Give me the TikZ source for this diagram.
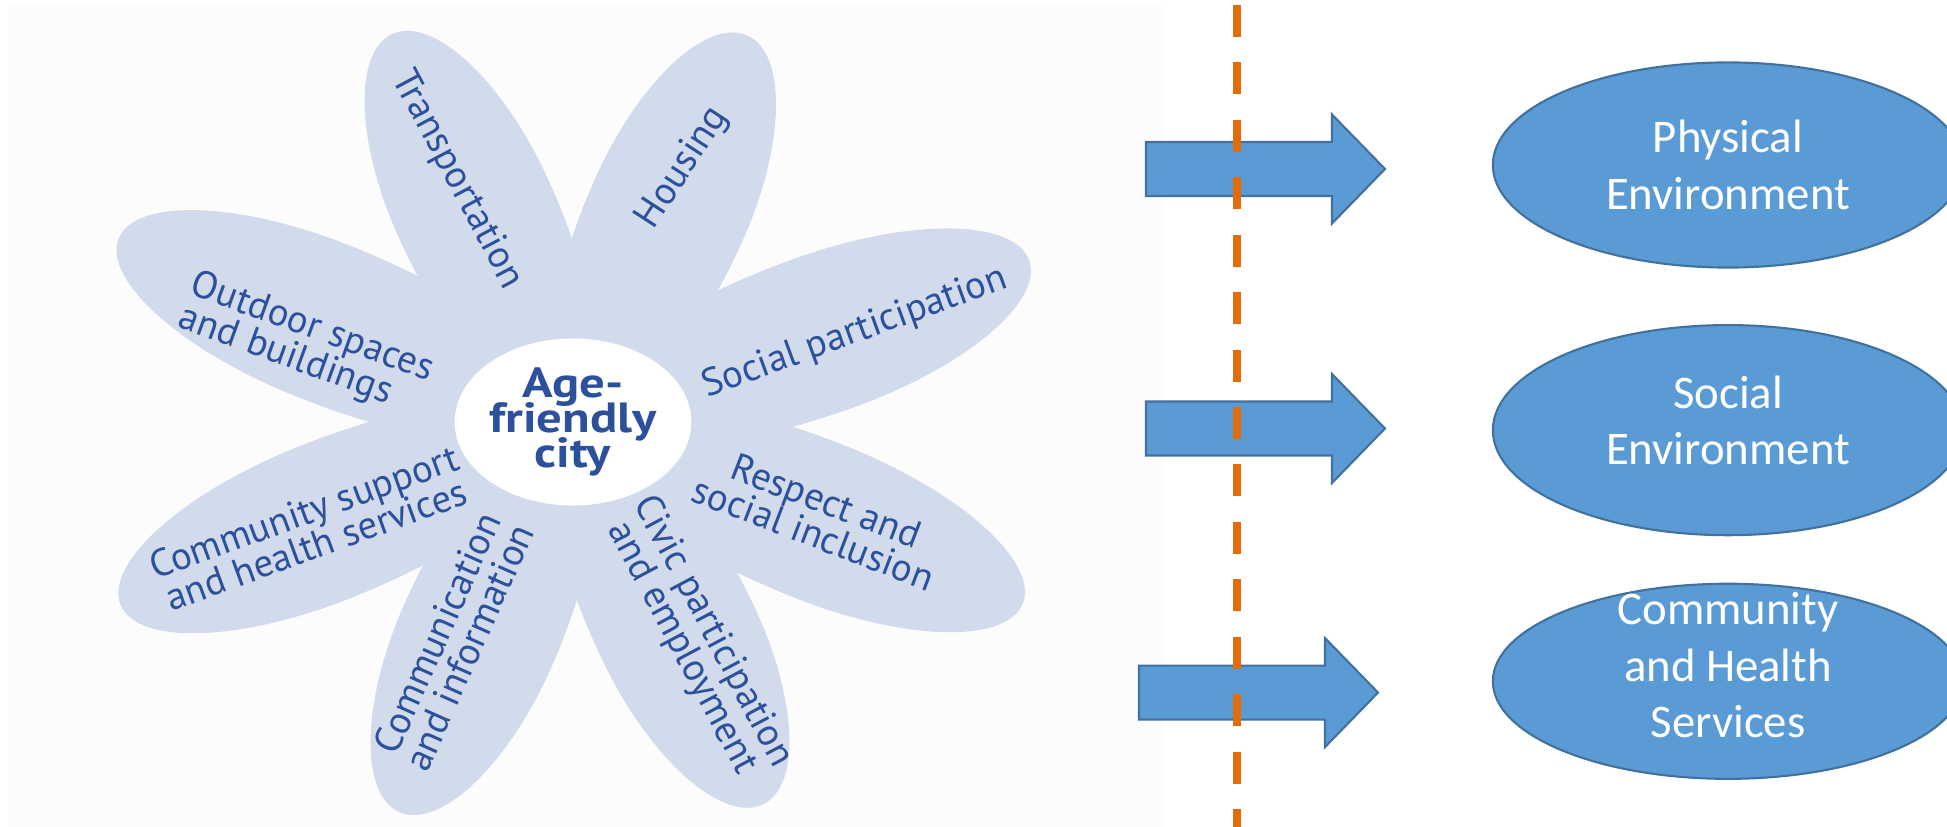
\documentclass[tikz,border=0pt]{standalone}
\usepackage{fontspec}
\usepackage{tikz}
\usetikzlibrary{shapes,positioning}
\newfontfamily\flowerfont{PT Sans}
\newfontfamily\flowerwide[FakeStretch=1.2]{PT Sans}
\newfontfamily\calibrifont{Carlito}
\newcommand\tightlines{\lineskiplimit-10pt\relax}
\definecolor{petalblue}{HTML}{D1DBEB}
\definecolor{labelblue}{HTML}{2C509C}
\definecolor{officeblue}{HTML}{5B9BD5}
\definecolor{officeedge}{HTML}{41719C}
\definecolor{cutorange}{HTML}{E36C0A}
\definecolor{paper}{HTML}{FCFCFC}
\tikzstyle{petal} = [fill=petalblue]
\tikzstyle{petaltext} = [text=labelblue, font=\flowerfont\fontsize{11}{10}\selectfont\tightlines, align=center, inner sep=0pt]
\tikzstyle{envoval} = [ellipse, draw=officeedge, line width=0.6pt, fill=officeblue, minimum width=4.7cm, minimum height=2.05cm, inner sep=0pt]
\tikzstyle{envtext} = [text=white, align=center, inner sep=0pt, font=\calibrifont\fontsize{13.3}{16}\selectfont]
\tikzstyle{blockarrow} = [draw=officeedge, line width=0.6pt, fill=officeblue]
\tikzstyle{cutline} = [draw=cutorange, line width=0.08cm, dash pattern=on 0.32cm off 0.254cm]

\begin{document}
\begin{tikzpicture}[x=0.01cm, y=0.01cm]
	\useasboundingbox (0,0) rectangle (1947,827);
	\clip (0,0) rectangle (1947,827);
	\fill[paper] (9,0) rectangle (1163,823);
	\coordinate (hub) at (573,405);
	\begin{scope}[shift={(hub)}]
		\foreach \ang/\len in {115/428, 65.7/424, 19.5/484, -22/485, -63.5/427, -114/427, -158/488, 158/490}{
			\pgfmathsetmacro{\waist}{0.55*\len}
			\pgfmathsetmacro{\tipr}{0.552*(\len-\waist)}
			\fill[petal, rotate=\ang] (0,0) .. controls (0,44) and (0.448*\waist,80) .. (\waist,80) .. controls (\waist+\tipr,80) and (\len,44) .. (\len,0) .. controls (\len,-44) and (\waist+\tipr,-80) .. (\waist,-80) .. controls (0.448*\waist,-80) and (0,-44) .. cycle;
		}
	\end{scope}
	\node[ellipse, fill=white, minimum width=1.91cm, minimum height=1.67cm, inner sep=0pt, text=labelblue, font=\flowerwide\bfseries\fontsize{12}{10}\selectfont\tightlines, align=center] (agecity) at (hub) {Age-\\friendly\\city};
	\node[petaltext, rotate=-62] (transport) at (457,647) {Transportation};
	\node[petaltext, rotate=57] (housing) at (683,659) {Housing};
	\node[petaltext, rotate=20] (socpart) at (855,494) {Social participation};
	\node[petaltext, rotate=-21] (respect) at (820,310) {Respect and\\social inclusion};
	\node[petaltext, rotate=-62] (civic) at (697,187) {Civic participation\\and employment};
	\node[petaltext, rotate=66] (commun) at (453,187) {Communication\\and information};
	\node[petaltext, rotate=20] (support) at (310,299) {Community support\\and health services};
	\node[petaltext, rotate=-20, align=left] (outdoor) at (306,482) {Outdoor spaces\\and buildings};
	\foreach \ax/\ay in {1146/658, 1146/398.5, 1139/134.4}
		\draw[blockarrow] (\ax,\ay-27) -- ++(186,0) -- ++(0,-27.5) -- ++(53,54.5) -- ++(-53,54.5) -- ++(0,-27.5) -- ++(-186,0) -- cycle;
	\coordinate (cuttop) at (1237,822);
	\coordinate (cutbottom) at (1237,0);
	\draw[cutline] (cuttop) -- (cutbottom);
	\node[envoval, label={[envtext]center:{Physical\\Environment}}] (physenv) at (1728,662) {};
	\node[envoval, below of=physenv, node distance=2.65cm, minimum height=2.1cm, label={[envtext, yshift=0.1cm]center:{Social\\Environment}}] (socenv) {};
	\node[envoval, below of=socenv, node distance=2.51cm, minimum height=1.95cm, label={[envtext, yshift=0.16cm]center:{Community\\and Health\\Services}}] (commenv) {};
\end{tikzpicture}
\end{document}
